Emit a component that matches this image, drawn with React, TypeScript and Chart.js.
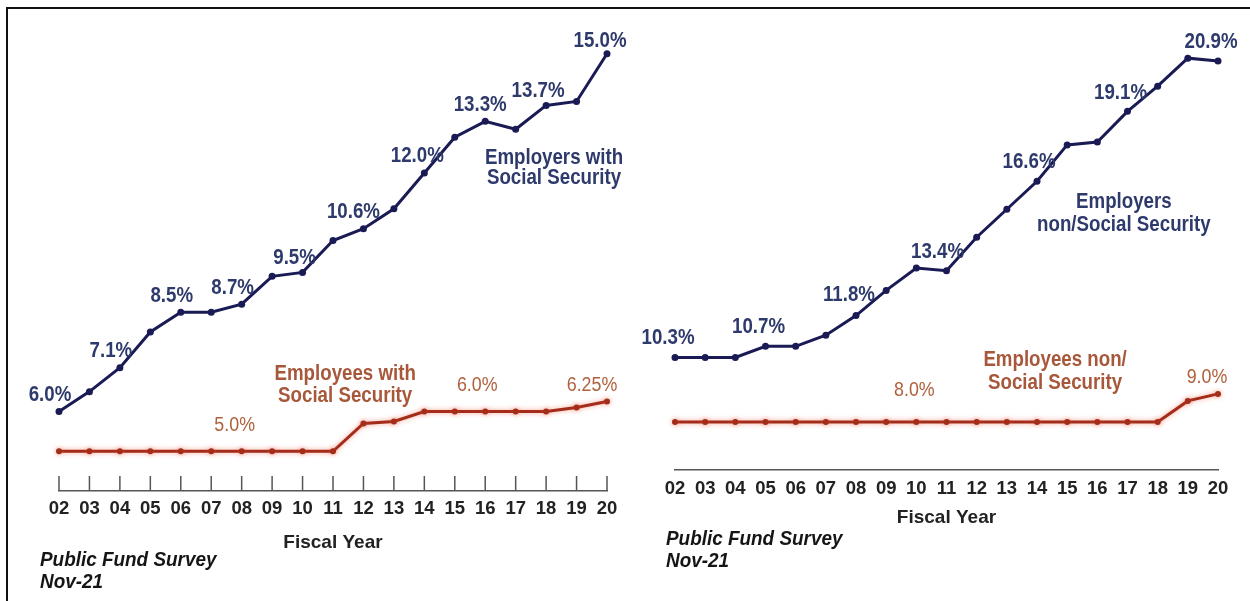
import React, { useEffect, useRef } from 'react';
import { Chart, registerables } from 'chart.js';

Chart.register(...registerables);

// ---------------- data ----------------
const fiscalYears = ['02', '03', '04', '05', '06', '07', '08', '09', '10', '11', '12', '13', '14', '15', '16', '17', '18', '19', '20'];

const employersWithSS = [6.0, 6.5, 7.1, 8.0, 8.5, 8.5, 8.7, 9.4, 9.5, 10.3, 10.6, 11.1, 12.0, 12.9, 13.3, 13.1, 13.7, 13.8, 15.0];
const employeesWithSS = [5.0, 5.0, 5.0, 5.0, 5.0, 5.0, 5.0, 5.0, 5.0, 5.0, 5.7, 5.75, 6.0, 6.0, 6.0, 6.0, 6.0, 6.1, 6.25];
const employersNonSS = [10.3, 10.3, 10.3, 10.7, 10.7, 11.1, 11.8, 12.7, 13.5, 13.4, 14.6, 15.6, 16.6, 17.9, 18.0, 19.1, 20.0, 21.0, 20.9];
const employeesNonSS = [8.0, 8.0, 8.0, 8.0, 8.0, 8.0, 8.0, 8.0, 8.0, 8.0, 8.0, 8.0, 8.0, 8.0, 8.0, 8.0, 8.0, 8.75, 9.0];

// indices of points that carry a value label
const employersWithSSLabelAt = [0, 2, 4, 6, 8, 10, 12, 14, 16, 18];
const employeesWithSSLabelAt = [6, 14, 18];
const employersNonSSLabelAt = [0, 3, 6, 9, 12, 15, 18];
const employeesNonSSLabelAt = [8, 18];

const leftSeriesNames = [['Employers with', 'Social Security'], ['Employees with', 'Social Security']];
const rightSeriesNames = [['Employers', 'non/Social Security'], ['Employees non/', 'Social Security']];
const axisTitle = 'Fiscal Year';
const sourceLines = ['Public Fund Survey', 'Nov-21'];

// ---------------- styles / layout ----------------
const FONT = '"Liberation Sans", Arial, Helvetica, sans-serif';
const NAVY_LINE = '#1a1a55';
const NAVY_TEXT = '#2e3a6b';
const RED_LINE = '#a32c1a';
const RED_TEXT = '#b0603c';
const AXIS = '#555555';

const leftLayout = {
  canvasLeft: 0, width: 640, height: 601,
  padding: { left: 59, right: 33, top: 14, bottom: 40 },
  yMin: 4, yMax: 16,
  tickPadding: 7, titlePadBottom: 6.6, innerTicks: 15,
  employerOffsets: [[-9, -18], [-9, -19], [-9, -18], [-9, -18], [-8, -16], [-10, -18], [-7, -19], [-5, -18], [-8, -16], [-7, -14]],
  employeeOffsets: [[-7, -28], [-8, -28], [-15, -18]],
  employerNote: { x: 16.26, y: 12.43, gap: 20 },
  employeeNote: { x: 9.4, y: 6.99, gap: 22 },
};

const rightLayout = {
  canvasLeft: 640, width: 610, height: 601,
  padding: { left: 35, right: 32, top: 19, bottom: 61 },
  yMin: 6.28, yMax: 22.4,
  tickPadding: 8.2, titlePadBottom: 10.6, innerTicks: 0,
  employerOffsets: [[-7, -21], [-7, -21], [-7, -22], [-9, -21], [-8, -21], [-7, -20], [-7, -21]],
  employeeOffsets: [[-2, -33], [-11, -18]],
  employerNote: { x: 14.88, y: 15.93, gap: 23 },
  employeeNote: { x: 12.6, y: 10.28, gap: 23 },
};

// text in the reference is slightly tall / narrow
const TEXT_SCALE_X = 0.87;

const fmt = (v: number) => (Math.abs(v * 10 - Math.round(v * 10)) < 1e-9 ? v.toFixed(1) : v.toFixed(2)) + '%';

type LabelSpec = { ds: number; idx: number; dx: number; dy: number; font: string; size: number; color: string };
type NoteSpec = { lines: string[]; x: number; y: number; gap: number; font: string; size: number; color: string };

function drawText(ctx: CanvasRenderingContext2D, text: string, x: number, yCenter: number, size: number) {
  ctx.save();
  ctx.translate(x, yCenter + size * 0.36);
  ctx.scale(TEXT_SCALE_X, 1);
  ctx.fillText(text, 0, 0);
  ctx.restore();
}

function makeTextPlugin(labels: LabelSpec[], notes: NoteSpec[], innerTicks: number) {
  return {
    id: 'textOverlay',
    afterDraw(chart: any) {
      const ctx = chart.ctx as CanvasRenderingContext2D;
      const xs = chart.scales.x;
      const ys = chart.scales.y;
      ctx.save();
      if (innerTicks > 0) {
        ctx.strokeStyle = AXIS;
        ctx.lineWidth = 1.5;
        const bottom = chart.chartArea.bottom;
        for (let i = 0; i < xs.ticks.length; i++) {
          const x = xs.getPixelForTick(i);
          ctx.beginPath();
          ctx.moveTo(x, bottom);
          ctx.lineTo(x, bottom - innerTicks);
          ctx.stroke();
        }
      }
      ctx.textAlign = 'center';
      ctx.textBaseline = 'alphabetic';
      labels.forEach((l) => {
        const pt = chart.getDatasetMeta(l.ds).data[l.idx];
        const v = chart.data.datasets[l.ds].data[l.idx] as number;
        ctx.font = l.font;
        ctx.fillStyle = l.color;
        drawText(ctx, fmt(v), pt.x + l.dx, pt.y + l.dy, l.size);
      });
      notes.forEach((n) => {
        const x = xs.getPixelForValue(n.x);
        const y = ys.getPixelForValue(n.y);
        ctx.font = n.font;
        ctx.fillStyle = n.color;
        n.lines.forEach((line, i) => drawText(ctx, line, x, y + i * n.gap, n.size));
      });
      ctx.restore();
    },
  };
}

function makeGlowPlugin(dsIndex: number, color: string) {
  return {
    id: 'glow',
    beforeDatasetDraw(chart: any, args: any) {
      if (args.index === dsIndex) {
        chart.ctx.save();
        chart.ctx.shadowColor = color;
        chart.ctx.shadowBlur = 5;
      }
    },
    afterDatasetDraw(chart: any, args: any) {
      if (args.index === dsIndex) chart.ctx.restore();
    },
  };
}

function buildConfig(layout: typeof leftLayout, employers: number[], employees: number[], empLabelAt: number[], eeLabelAt: number[], names: string[][]) {
  const boldLabel = `bold 21.5px ${FONT}`;
  const regLabel = `20.5px ${FONT}`;
  const labels: LabelSpec[] = [
    ...empLabelAt.map((idx, i) => ({ ds: 0, idx, dx: layout.employerOffsets[i][0], dy: layout.employerOffsets[i][1], font: boldLabel, size: 21.5, color: NAVY_TEXT })),
    ...eeLabelAt.map((idx, i) => ({ ds: 1, idx, dx: layout.employeeOffsets[i][0], dy: layout.employeeOffsets[i][1], font: regLabel, size: 20.5, color: RED_TEXT })),
  ];
  const notes: NoteSpec[] = [
    { lines: names[0], ...layout.employerNote, font: boldLabel, size: 21.5, color: NAVY_TEXT },
    { lines: names[1], ...layout.employeeNote, font: boldLabel, size: 21.5, color: '#a8583a' },
  ];
  return {
    type: 'line' as const,
    data: {
      labels: fiscalYears,
      datasets: [
        {
          label: names[0].join(' '),
          data: employers,
          borderColor: NAVY_LINE,
          backgroundColor: NAVY_LINE,
          borderWidth: 3,
          pointRadius: 3.5,
          pointBorderWidth: 0,
          tension: 0,
          clip: false as any,
        },
        {
          label: names[1].join(' '),
          data: employees,
          borderColor: RED_LINE,
          backgroundColor: RED_LINE,
          borderWidth: 3,
          pointRadius: 3,
          pointBorderWidth: 0,
          tension: 0,
          clip: false as any,
        },
      ],
    },
    options: {
      responsive: false,
      animation: false as const,
      layout: { padding: layout.padding },
      plugins: { legend: { display: false }, tooltip: { enabled: false }, title: { display: false } },
      scales: {
        x: {
          type: 'category' as const,
          offset: false,
          grid: { display: false, drawTicks: false, drawOnChartArea: false },
          border: { display: true, color: AXIS, width: 1.5 },
          ticks: { color: '#222', font: { family: FONT, size: 18.5, weight: 'bold' as const }, padding: layout.tickPadding, maxRotation: 0, autoSkip: false },
          title: { display: true, text: axisTitle, color: '#222', font: { family: FONT, size: 19, weight: 'bold' as const }, padding: { top: 0, bottom: layout.titlePadBottom } },
          afterFit: (s: any) => { s.height = 70; },
        },
        y: { display: false, min: layout.yMin, max: layout.yMax },
      },
    },
    plugins: [makeGlowPlugin(1, 'rgba(235,90,60,0.55)'), makeTextPlugin(labels, notes, layout.innerTicks)],
  };
}

function Panel(props: { layout: typeof leftLayout; employers: number[]; employees: number[]; empLabelAt: number[]; eeLabelAt: number[]; names: string[][] }) {
  const ref = useRef<HTMLCanvasElement | null>(null);
  useEffect(() => {
    if (!ref.current) return;
    const cfg: any = buildConfig(props.layout, props.employers, props.employees, props.empLabelAt, props.eeLabelAt, props.names);
    const chart = new Chart(ref.current, cfg);
    return () => chart.destroy();
  }, []);
  const l = props.layout;
  return (
    <canvas
      ref={ref}
      width={l.width}
      height={l.height}
      style={{ position: 'absolute', left: l.canvasLeft, top: 0, width: l.width, height: l.height, display: 'block' }}
    />
  );
}

const noteStyle: React.CSSProperties = {
  position: 'absolute',
  fontFamily: FONT,
  fontWeight: 'bold',
  fontStyle: 'italic',
  fontSize: 21,
  lineHeight: '22px',
  color: '#151515',
  whiteSpace: 'nowrap',
  transform: 'scaleX(0.9)',
  transformOrigin: 'left center',
};

export default function App() {
  Chart.defaults.font.family = FONT;
  return (
    <div style={{ position: 'fixed', left: 0, top: 0, width: 1250, height: 601, background: '#ffffff', overflow: 'hidden' }}>
      <div style={{ position: 'absolute', left: 6, top: 7, width: 1260, height: 620, borderTop: '2px solid #111', borderLeft: '2px solid #111' }} />
      <Panel layout={leftLayout} employers={employersWithSS} employees={employeesWithSS} empLabelAt={employersWithSSLabelAt} eeLabelAt={employeesWithSSLabelAt} names={leftSeriesNames} />
      <Panel layout={rightLayout} employers={employersNonSS} employees={employeesNonSS} empLabelAt={employersNonSSLabelAt} eeLabelAt={employeesNonSSLabelAt} names={rightSeriesNames} />
      <div style={{ ...noteStyle, left: 40, top: 548 }}>{sourceLines[0]}<br />{sourceLines[1]}</div>
      <div style={{ ...noteStyle, left: 666, top: 527 }}>{sourceLines[0]}<br />{sourceLines[1]}</div>
    </div>
  );
}
